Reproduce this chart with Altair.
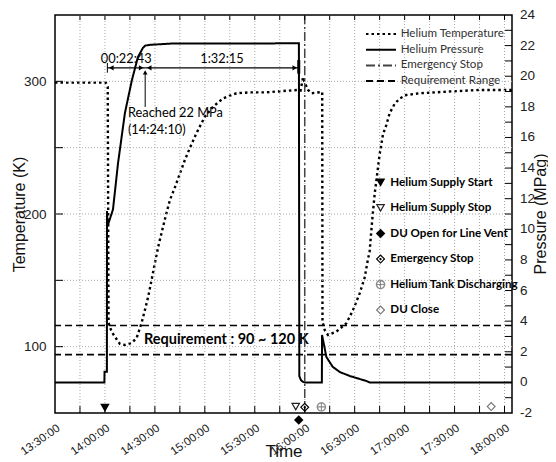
import altair as alt
import pandas as pd

DATE = "2021-03-15"

# ---- Helium pressure (MPag)
press_time = ["13:30:00", "13:59:40", "13:59:45", "14:01:10", "14:01:15", "14:01:30",
              "14:01:50", "14:04:50", "14:07:50", "14:12:00", "14:16:12", "14:19:48",
              "14:22:48", "14:24:10", "14:27:00", "14:39:00", "15:56:30", "15:56:45",
              "15:57:45", "15:59:00", "16:00:00", "16:10:18", "16:10:24", "16:13:00",
              "16:16:48", "16:21:00", "16:27:00", "16:37:00", "16:39:00", "18:04:30"]
press_val = [0, 0, 0.7, 0.7, 11.2, 10.2,
             10.3, 11.3, 14.3, 17.6, 19.75, 21.25,
             21.85, 22.0, 22.05, 22.13, 22.15, 0.4,
             0.15, 0.03, 0, 0, 3.1, 1.66,
             1.02, 0.68, 0.42, 0.09, 0, 0]

# ---- Helium temperature (K)
temp_time = ["13:30:00", "13:45:00", "14:00:30", "14:01:40", "14:02:10", "14:04:00",
             "14:06:00", "14:09:00", "14:12:00", "14:16:00", "14:19:00", "14:22:00",
             "14:24:00", "14:26:00", "14:28:00", "14:30:00", "14:32:00", "14:34:00",
             "14:36:00", "14:39:00", "14:42:00", "14:44:00", "14:48:00", "14:51:00",
             "14:55:00", "15:00:00", "15:05:00", "15:11:00", "15:19:00", "15:27:00",
             "15:37:00", "15:47:00", "15:56:00", "15:57:30", "15:59:00", "16:00:00",
             "16:02:00", "16:04:00", "16:07:00", "16:10:30", "16:10:40", "16:12:00",
             "16:14:00", "16:19:00", "16:25:00", "16:29:00", "16:33:00", "16:36:00",
             "16:38:00", "16:39:00", "16:40:30", "16:42:00", "16:43:00", "16:45:00",
             "16:47:00", "16:49:00", "16:51:00", "16:54:00", "16:57:00", "17:01:00",
             "17:09:00", "17:25:00", "17:45:00", "18:04:30"]
temp_val = [299, 299, 299, 296, 118, 111.3,
            107.5, 102, 101.3, 102.8, 106.5, 117.8,
            127.6, 137.7, 150.2, 163, 175.4, 185.7,
            196, 210.5, 220, 226.9, 240.7, 249.7,
            261, 273.3, 280.9, 287.2, 291, 291.7,
            291.7, 292.7, 293.5, 293, 303, 299,
            293.5, 291, 291.5, 292, 118.8, 112.6,
            108.8, 111.3, 117.6, 127.6, 140.2, 152,
            166, 172, 195, 215, 225, 245,
            260, 267, 276, 283, 287, 289.7,
            291, 292.2, 293.5, 293.5]

series_names = ["Helium Temperature", "Helium Pressure", "Emergency Stop", "Requirement Range"]

event_names = ["Helium  Supply Start", "Helium  Supply Stop", "DU Open for Line Vent",
               "Emergency  Stop", "Helium Tank Discharging", "DU Close"]
event_time = ["14:00:00", "15:54:36", "15:56:24", "16:00:00", "16:10:00", "17:52:00"]
event_level = [-1.67, -1.6, -2.46, -1.63, -1.6, -1.58]

emergency_time = ["16:00:00"]
requirement_K = [94, 116]
requirement_label = "Requirement : 90 ~ 120 K"
requirement_label_time = "14:23:24"
requirement_label_K = 105

span_times = ["14:01:27", "14:24:10", "15:56:25"]
span_labels = ["00:22:43", "1:32:15"]
arrow_level = 20.55
span_label_level = 21.12
note_lines = ["Reached 22 MPa", "(14:24:10)"]
note_time = "14:13:48"
note_levels = [17.6, 16.49]
note_arrow_levels = [17.99, 20.25]

x_start, x_end = "13:30:00", "18:04:30"
x_label_times = ["13:30:00", "14:00:00", "14:30:00", "15:00:00", "15:30:00",
                 "16:00:00", "16:30:00", "17:00:00", "17:30:00", "18:00:00"]
T_DOMAIN = [50, 350]
P_DOMAIN = [-2, 24]
T_LABELS = [100, 200, 300]
T_GRID = [100, 150, 200, 250, 300]
P_LABELS = list(range(-2, 25, 2))
P_TICKS = list(range(-1, 24))
P_TITLE = "Pressure (MPag)"

# ---- layout / style
W, H = 457, 398
FONT = "Liberation Sans"
NARROW = "Lato"
GRID_COLOR = "#a8a8a8"


def ts(s):
    return pd.Timestamp(f"{DATE} {s}")


def dt(s):
    h, m, sec = (int(p) for p in s.split(":"))
    return alt.DateTime(year=2021, month=3, date=15, hours=h, minutes=m, seconds=sec)


x_scale = alt.Scale(domain=[dt(x_start), dt(x_end)])
t_scale = alt.Scale(domain=T_DOMAIN, nice=False, zero=False)
p_scale = alt.Scale(domain=P_DOMAIN, nice=False, zero=False)

x_axis = alt.Axis(
    title="Time", values=[dt(s) for s in x_label_times], format="%H:%M:%S",
    labelAngle=325, labelPadding=9,
    labelFontSize=11.5, labelOverlap=False, tickSize=0, domain=False,
    grid=False, titleFontSize=17, titlePadding=-14)
t_axis = alt.Axis(
    title="Temperature (K)", values=T_LABELS, labelOverlap=False,
    labelPadding=9, labelFontSize=13.5, tickSize=0, domain=False, grid=False,
    titleFontSize=16, titlePadding=-4)

line_legend = alt.Legend(
    title=None, orient="none", legendX=319, legendY=12, symbolType="M-2.5,0H2.5",
    symbolSize=144, symbolStrokeWidth=2, labelOffset=12.7, rowPadding=2.7,
    labelFont=NARROW, labelFontSize=11.6, labelColor="#333333", padding=0, labelLimit=250)
series_dash = [[2.5, 3], [1, 0], [9, 3, 2, 3], [7, 4]]
series_color = ["black", "black", "#444444", "black"]


def series_enc():
    return dict(
        stroke=alt.Stroke("series:N", scale=alt.Scale(domain=series_names, range=series_color),
                          legend=line_legend),
        strokeDash=alt.StrokeDash("series:N", scale=alt.Scale(domain=series_names, range=series_dash),
                                  legend=line_legend))


event_legend = alt.Legend(
    title=None, orient="none", legendX=319.75, legendY=161.75, symbolSize=90,
    symbolStrokeWidth=0, rowPadding=12.5, labelOffset=4,
    labelFont=NARROW, labelFontSize=11.6, labelFontWeight="bold", labelColor="black",
    padding=0, labelLimit=250)
# filled outline shapes (outer path clockwise, inner path counter-clockwise = hole)
open_tri_down = "M-1,-0.866L1,-0.866L0,0.866Z M-0.567,-0.616L0,0.366L0.567,-0.616Z"
open_diamond = "M0,-1L1,0L0,1L-1,0Z M0,-0.65L-0.65,0L0,0.65L0.65,0Z"
open_diamond_dot = open_diamond + " M0,-0.3L0.3,0L0,0.3L-0.3,0Z"
circle_cross = ("M-1,0A1,1,0,1,1,1,0A1,1,0,1,1,-1,0Z "
                "M-0.72,0A0.72,0.72,0,1,0,0.72,0A0.72,0.72,0,1,0,-0.72,0Z "
                "M-1,-0.11L1,-0.11L1,0.11L-1,0.11Z M-0.11,-1L0.11,-1L0.11,1L-0.11,1Z")
event_shapes = ["triangle-down", open_tri_down, "diamond", open_diamond_dot, circle_cross, open_diamond]
event_fill = ["black", "#222222", "black", "black", "#8a8a8a", "#777777"]

# ---- data frames
temp_df = pd.DataFrame({"t": [ts(s) for s in temp_time], "v": temp_val,
                        "series": series_names[0]})
press_df = pd.DataFrame({"t": [ts(s) for s in press_time], "v": press_val,
                         "series": series_names[1]})
em_df = pd.DataFrame({"t": [ts(s) for s in emergency_time], "series": series_names[2]})
req_df = pd.DataFrame({"v": requirement_K, "series": series_names[3]})
ev_df = pd.DataFrame({"t": [ts(s) for s in event_time], "v": event_level, "event": event_names})

sp = [ts(s) for s in span_times]
seg_df = pd.DataFrame({"t": sp[:-1], "t2": sp[1:], "v": arrow_level})
mid_df = pd.DataFrame({"t": [sp[i] + (sp[i + 1] - sp[i]) / 2 for i in range(len(sp) - 1)],
                       "v": span_label_level, "text": span_labels})
left_head_df = pd.DataFrame({"t": sp[:-1], "v": arrow_level})
right_head_df = pd.DataFrame({"t": sp[1:], "v": arrow_level})
note_df = pd.DataFrame({"t": ts(note_time), "v": note_levels, "text": note_lines})
note_arrow_df = pd.DataFrame({"t": [sp[1]], "v": [note_arrow_levels[0]], "v2": [note_arrow_levels[1]]})
note_head_df = pd.DataFrame({"t": [sp[1]], "v": [note_arrow_levels[1]]})
start_bar_df = pd.DataFrame({"t": [sp[0]], "v": [arrow_level - 0.32], "v2": [arrow_level + 0.32]})
end_bar_df = pd.DataFrame({"t": [sp[-1]], "v": [arrow_level - 0.38], "v2": [arrow_level + 0.5]})
reqlab_df = pd.DataFrame({"t": [ts(requirement_label_time)], "v": [requirement_label_K],
                          "text": [requirement_label]})

x_ticks_df = pd.DataFrame({"t": pd.date_range(ts("13:45:00"), ts("18:00:00"), freq="15min")})
t_grid_df = pd.DataFrame({"v": T_GRID})
p_ticks_df = pd.DataFrame({"v": P_TICKS})
p_labels_df = pd.DataFrame({"v": P_LABELS, "text": [str(v) for v in P_LABELS]})

# secondary layers of the temperature group: axis left implicit (merged into the main one)
X = alt.X("t:T", scale=x_scale)
YT = alt.Y("v:Q", scale=t_scale)
# pressure group: its axis is drawn with marks below
YP = alt.Y("v:Q", scale=p_scale, axis=None)

# ---- left (temperature) group
x_grid = alt.Chart(x_ticks_df).mark_rule(color=GRID_COLOR, strokeDash=[1, 2], strokeWidth=1).encode(x=X)
t_grid = alt.Chart(t_grid_df).mark_rule(color=GRID_COLOR, strokeDash=[1, 2], strokeWidth=1).encode(y=YT)
temp_line = alt.Chart(temp_df).mark_line(strokeWidth=2.4).encode(
    x=alt.X("t:T", scale=x_scale, axis=x_axis),
    y=alt.Y("v:Q", scale=t_scale, axis=t_axis),
    **series_enc())
req_rules = alt.Chart(req_df).mark_rule(strokeWidth=1.6).encode(y=YT, **series_enc())
req_text = alt.Chart(reqlab_df).mark_text(
    font=NARROW, fontSize=14.5, fontWeight="bold", align="left", baseline="middle",
    color="black").encode(x=X, y=YT, text="text:N")
left_ticks = alt.Chart(t_grid_df).mark_rule(color="black", strokeWidth=1).encode(
    y=YT, x=alt.value(0), x2=alt.value(8))
left = alt.layer(temp_line, x_grid, t_grid, req_rules, req_text, left_ticks)

# ---- right (pressure) group
press_line = alt.Chart(press_df).mark_line(strokeWidth=2).encode(
    x=X, y=YP, **series_enc())
em_rule = alt.Chart(em_df).mark_rule(strokeWidth=1.5).encode(x=X, **series_enc())
segs = alt.Chart(seg_df).mark_rule(color="black", strokeWidth=1.2).encode(
    x=X, x2="t2:T", y=YP)
lheads = alt.Chart(left_head_df).mark_point(
    shape="triangle-left", filled=True, size=28, color="black", opacity=1, xOffset=4).encode(
    x=X, y=YP)
rheads = alt.Chart(right_head_df).mark_point(
    shape="triangle-right", filled=True, size=28, color="black", opacity=1, xOffset=-4).encode(
    x=X, y=YP)
start_bar = alt.Chart(start_bar_df).mark_rule(color="black", strokeWidth=1).encode(
    x=X, y=YP, y2="v2:Q")
end_bar = alt.Chart(end_bar_df).mark_rule(color="black", strokeWidth=3).encode(
    x=X, y=YP, y2="v2:Q")
span_text = alt.Chart(mid_df).mark_text(
    font=NARROW, fontSize=12.8, align="center", baseline="middle", color="black").encode(
    x=X, y=YP, text="text:N")
note_arrow = alt.Chart(note_arrow_df).mark_rule(color="black", strokeWidth=1).encode(
    x=X, y=YP, y2="v2:Q")
note_head = alt.Chart(note_head_df).mark_point(
    shape="triangle-up", filled=True, size=22, color="black", opacity=1).encode(x=X, y=YP)
note_text = alt.Chart(note_df).mark_text(
    font=NARROW, fontSize=12.8, align="left", baseline="middle", color="black").encode(
    x=X, y=YP, text="text:N")
markers = alt.Chart(ev_df).mark_point(
    filled=True, size=90, strokeWidth=0, opacity=1).encode(
    x=X, y=YP,
    shape=alt.Shape("event:N", scale=alt.Scale(domain=event_names, range=event_shapes),
                    legend=event_legend),
    fill=alt.Fill("event:N", scale=alt.Scale(domain=event_names, range=event_fill),
                  legend=event_legend))
right_ticks = alt.Chart(p_ticks_df).mark_rule(color="black", strokeWidth=1).encode(
    y=YP, x=alt.value(W - 7), x2=alt.value(W))
right_labels = alt.Chart(p_labels_df).mark_text(
    font=FONT, fontSize=13.5, align="left", baseline="middle", color="#222222").encode(
    y=YP, x=alt.value(W + 8), text="text:N")
right_title = alt.Chart(p_labels_df.head(1)).mark_text(
    font=FONT, fontSize=16, angle=270, align="center", baseline="middle", color="#111111").encode(
    x=alt.value(W + 29), y=alt.value(H / 2), text=alt.value(P_TITLE))
bottom_ticks = alt.Chart(x_ticks_df).mark_rule(color="black", strokeWidth=1).encode(
    x=X, y=alt.value(H - 7), y2=alt.value(H))
top_ticks = alt.Chart(x_ticks_df).mark_rule(color="black", strokeWidth=1).encode(
    x=X, y=alt.value(0), y2=alt.value(5))
right = alt.layer(press_line, em_rule, segs, lheads, rheads, start_bar, end_bar, span_text,
                  note_arrow, note_head, note_text, markers, right_ticks, right_labels,
                  right_title, bottom_ticks, top_ticks)

chart = alt.layer(left, right).resolve_scale(y="independent").properties(
    width=W, height=H, autosize=alt.AutoSizeParams(type="none"),
    padding={"left": 47, "top": 7, "right": 36, "bottom": 49},
    background="white",
).configure_view(stroke="black", strokeWidth=1.5).configure_axis(
    labelFont=FONT, titleFont=FONT, labelColor="#222222", titleColor="#111111",
    titleFontWeight="normal")

chart.save("out.html", embed_options={"renderer": "svg", "actions": False})
